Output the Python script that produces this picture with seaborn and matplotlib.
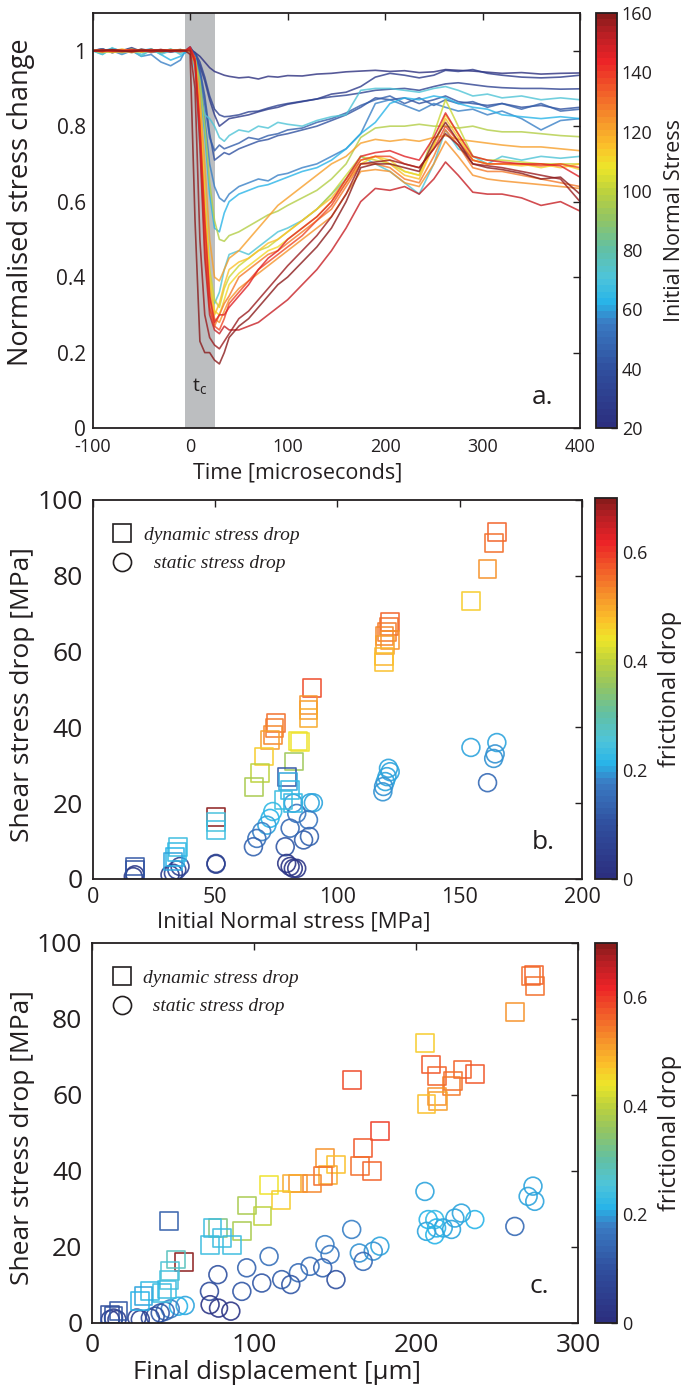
import numpy as np
import pandas as pd
import matplotlib
matplotlib.use("Agg")
import matplotlib.pyplot as plt
import seaborn as sns
from matplotlib.colors import LinearSegmentedColormap, Normalize
from matplotlib.lines import Line2D
import matplotlib.cm as cm

# ---------------- data: panel a ----------------
time_us = [-100, -90, -80, -70, -60, -50, -40, -30, -20, -10, -5, 0,
           5, 10, 15, 20, 25, 30, 35, 40,
           50, 60, 70, 80, 90, 100,
           115, 130, 145, 160, 175, 190, 205, 220, 235, 250,
           262, 275, 290, 305, 320,
           340, 360, 380, 400]

line_stress = [22, 27, 33, 72, 40, 46, 55, 62, 98, 122,
               145, 150, 159, 156, 128, 116, 72, 102, 138, 110, 124]

a_line_01 = [1.0, 1.005, 0.995, 1.0, 1.008, 0.998, 1.0, 1.003, 0.997, 1.0, 1.002, 1.0,
             0.995, 0.985, 0.97, 0.955, 0.945, 0.94, 0.935, 0.932,
             0.928, 0.93, 0.925, 0.932, 0.93, 0.934,
             0.933, 0.938, 0.94, 0.944, 0.946, 0.948, 0.945, 0.947, 0.942, 0.944,
             0.95, 0.948, 0.946, 0.943, 0.94,
             0.942, 0.938, 0.94, 0.941]
a_line_02 = [1.0, 0.995, 1.005, 1.0, 0.996, 1.004, 1.0, 0.995, 1.0, 1.003, 1.0, 1.01,
             0.99, 0.96, 0.92, 0.87, 0.83, 0.80, 0.81, 0.82,
             0.825, 0.83, 0.838, 0.845, 0.85, 0.858,
             0.865, 0.872, 0.885, 0.89, 0.905, 0.93, 0.94, 0.935, 0.928, 0.935,
             0.948, 0.945, 0.95, 0.94, 0.935,
             0.93, 0.928, 0.93, 0.935]
a_line_03 = [1.0, 1.003, 0.998, 1.0, 1.005, 0.997, 1.0, 1.002, 1.0, 0.998, 1.0, 1.005,
             0.995, 0.97, 0.93, 0.88, 0.845, 0.83, 0.825, 0.826,
             0.83, 0.838, 0.84, 0.848, 0.855, 0.86,
             0.866, 0.872, 0.878, 0.882, 0.888, 0.895, 0.898, 0.9, 0.895, 0.905,
             0.912, 0.915, 0.91, 0.905, 0.902,
             0.9, 0.9, 0.898, 0.899]
a_line_04 = [1.0, 0.99, 1.008, 0.995, 1.002, 0.985, 1.005, 0.99, 1.0, 0.995, 1.0, 1.0,
             0.96, 0.88, 0.83, 0.82, 0.80, 0.77, 0.76, 0.775,
             0.79, 0.785, 0.80, 0.795, 0.81, 0.805,
             0.80, 0.815, 0.825, 0.83, 0.895, 0.90, 0.90, 0.895, 0.89, 0.90,
             0.905, 0.895, 0.88, 0.885, 0.875,
             0.88, 0.87, 0.875, 0.87]
a_line_05 = [1.0, 1.0, 1.004, 0.996, 1.0, 1.003, 0.995, 1.0, 1.002, 1.0, 1.0, 1.005,
             0.99, 0.95, 0.88, 0.78, 0.71, 0.72, 0.73, 0.725,
             0.74, 0.75, 0.76, 0.765, 0.775, 0.78,
             0.79, 0.80, 0.815, 0.83, 0.85, 0.875, 0.87, 0.875, 0.86, 0.87,
             0.88, 0.865, 0.86, 0.855, 0.86,
             0.85, 0.855, 0.845, 0.85]
a_line_06 = [1.0, 1.005, 0.995, 1.0, 1.004, 0.997, 1.0, 1.0, 0.996, 1.002, 0.995, 1.0,
             0.99, 0.94, 0.86, 0.77, 0.735, 0.75, 0.74, 0.745,
             0.755, 0.77, 0.765, 0.775, 0.78, 0.79,
             0.795, 0.81, 0.82, 0.835, 0.855, 0.87, 0.88, 0.86, 0.875, 0.855,
             0.87, 0.86, 0.865, 0.85, 0.86,
             0.845, 0.86, 0.84, 0.845]
a_line_07 = [1.0, 0.995, 1.0, 0.99, 1.0, 0.985, 0.99, 0.97, 0.96, 0.975, 1.0, 1.0,
             0.985, 0.93, 0.82, 0.70, 0.64, 0.61, 0.60, 0.62,
             0.64, 0.65, 0.66, 0.655, 0.67, 0.675,
             0.69, 0.70, 0.72, 0.74, 0.78, 0.86, 0.87, 0.855, 0.84, 0.86,
             0.85, 0.84, 0.845, 0.83, 0.84,
             0.82, 0.79, 0.815, 0.82]
a_line_08 = [1.0, 1.0, 1.005, 1.0, 0.995, 1.0, 1.005, 0.99, 0.975, 0.985, 0.995, 1.0,
             0.98, 0.90, 0.78, 0.62, 0.53, 0.52, 0.57, 0.60,
             0.62, 0.63, 0.64, 0.645, 0.655, 0.665,
             0.68, 0.69, 0.71, 0.74, 0.78, 0.81, 0.86, 0.875, 0.87, 0.88,
             0.875, 0.86, 0.85, 0.845, 0.83,
             0.825, 0.82, 0.825, 0.82]
a_line_09 = [1.0, 1.0, 0.995, 1.0, 1.0, 1.003, 1.0, 0.997, 1.0, 1.0, 1.0, 1.0,
             0.98, 0.92, 0.80, 0.65, 0.55, 0.50, 0.495, 0.51,
             0.52, 0.535, 0.55, 0.565, 0.575, 0.59,
             0.61, 0.63, 0.66, 0.70, 0.77, 0.795, 0.80, 0.80, 0.805, 0.80,
             0.80, 0.795, 0.80, 0.79, 0.785,
             0.785, 0.78, 0.775, 0.772]
a_line_10 = [1.0, 1.0, 1.0, 0.995, 1.0, 1.0, 1.003, 1.0, 0.998, 1.0, 1.0, 1.005,
             0.98, 0.88, 0.70, 0.50, 0.40, 0.39, 0.42, 0.45,
             0.47, 0.50, 0.53, 0.56, 0.59, 0.61,
             0.64, 0.67, 0.70, 0.72, 0.755, 0.765, 0.76, 0.765, 0.76, 0.77,
             0.775, 0.765, 0.76, 0.755, 0.75,
             0.745, 0.745, 0.74, 0.735]
a_line_11 = [1.0, 1.002, 0.998, 1.0, 1.003, 1.0, 0.997, 1.0, 1.002, 1.0, 1.0, 1.01,
             0.98, 0.80, 0.55, 0.35, 0.28, 0.30, 0.30, 0.32,
             0.35, 0.38, 0.42, 0.45, 0.47, 0.50,
             0.53, 0.56, 0.60, 0.66, 0.72, 0.73, 0.735, 0.72, 0.71, 0.77,
             0.835, 0.78, 0.72, 0.71, 0.705,
             0.70, 0.70, 0.695, 0.665]
a_line_12 = [1.0, 0.998, 1.002, 1.0, 0.997, 1.0, 1.003, 1.0, 0.998, 1.0, 1.0, 1.005,
             0.97, 0.75, 0.45, 0.30, 0.26, 0.25, 0.27, 0.26,
             0.26, 0.27, 0.28, 0.30, 0.32, 0.34,
             0.38, 0.42, 0.47, 0.53, 0.60, 0.635, 0.63, 0.64, 0.62, 0.66,
             0.705, 0.67, 0.625, 0.62, 0.62,
             0.61, 0.59, 0.60, 0.575]
a_line_13 = [1.0, 1.0, 1.003, 1.0, 0.998, 1.0, 1.0, 1.002, 1.0, 1.0, 1.0, 0.99,
             0.55, 0.23, 0.20, 0.20, 0.18, 0.17, 0.20, 0.24,
             0.27, 0.29, 0.32, 0.35, 0.38, 0.40,
             0.44, 0.48, 0.53, 0.60, 0.69, 0.70, 0.70, 0.69, 0.68, 0.76,
             0.81, 0.76, 0.70, 0.69, 0.685,
             0.675, 0.66, 0.665, 0.62]
a_line_14 = [1.0, 1.002, 1.0, 0.998, 1.0, 1.003, 1.0, 0.998, 1.0, 1.002, 1.0, 1.0,
             0.90, 0.50, 0.30, 0.24, 0.22, 0.21, 0.23, 0.25,
             0.29, 0.31, 0.34, 0.37, 0.40, 0.43,
             0.47, 0.51, 0.56, 0.62, 0.70, 0.705, 0.71, 0.70, 0.69, 0.74,
             0.78, 0.75, 0.70, 0.695, 0.69,
             0.68, 0.67, 0.66, 0.60]
a_line_15 = [1.0, 0.997, 1.0, 1.003, 1.0, 0.998, 1.0, 1.002, 1.0, 0.997, 1.0, 1.0,
             0.96, 0.80, 0.50, 0.32, 0.27, 0.30, 0.33, 0.35,
             0.40, 0.42, 0.44, 0.46, 0.47, 0.49,
             0.52, 0.55, 0.58, 0.64, 0.70, 0.70, 0.69, 0.66, 0.65, 0.72,
             0.79, 0.75, 0.69, 0.68, 0.68,
             0.67, 0.66, 0.65, 0.64]
a_line_16 = [1.0, 1.003, 0.997, 1.0, 0.995, 1.0, 1.002, 0.998, 1.0, 1.0, 1.0, 1.0,
             0.97, 0.85, 0.60, 0.38, 0.30, 0.33, 0.38, 0.42,
             0.44, 0.45, 0.47, 0.49, 0.50, 0.52,
             0.55, 0.58, 0.61, 0.66, 0.71, 0.72, 0.70, 0.67, 0.66, 0.75,
             0.82, 0.77, 0.71, 0.70, 0.70,
             0.695, 0.70, 0.69, 0.70]
a_line_17 = [1.0, 0.99, 1.006, 0.992, 1.004, 0.99, 1.0, 0.995, 1.005, 0.99, 1.0, 1.0,
             0.95, 0.75, 0.50, 0.36, 0.33, 0.36, 0.42, 0.46,
             0.47, 0.46, 0.48, 0.50, 0.52, 0.53,
             0.55, 0.58, 0.62, 0.66, 0.72, 0.70, 0.68, 0.65, 0.62, 0.70,
             0.79, 0.74, 0.72, 0.70, 0.72,
             0.71, 0.72, 0.715, 0.72]
a_line_18 = [1.0, 1.0, 0.996, 1.0, 1.004, 1.0, 0.997, 1.0, 1.0, 1.003, 1.0, 1.0,
             0.98, 0.86, 0.62, 0.42, 0.34, 0.32, 0.37, 0.40,
             0.43, 0.45, 0.47, 0.48, 0.50, 0.52,
             0.55, 0.58, 0.62, 0.67, 0.72, 0.71, 0.70, 0.68, 0.67, 0.78,
             0.87, 0.80, 0.72, 0.71, 0.71,
             0.705, 0.70, 0.70, 0.70]
a_line_19 = [1.0, 1.0, 1.002, 1.0, 0.998, 1.0, 1.0, 1.003, 1.0, 0.998, 1.0, 1.005,
             0.97, 0.78, 0.48, 0.32, 0.27, 0.26, 0.29, 0.33,
             0.36, 0.39, 0.42, 0.44, 0.46, 0.48,
             0.51, 0.55, 0.59, 0.65, 0.71, 0.72, 0.72, 0.70, 0.69, 0.74,
             0.80, 0.76, 0.71, 0.70, 0.70,
             0.70, 0.695, 0.70, 0.69]
a_line_20 = [1.0, 0.995, 1.0, 1.004, 1.0, 0.996, 1.0, 1.0, 1.003, 1.0, 1.0, 1.0,
             0.98, 0.84, 0.60, 0.40, 0.31, 0.30, 0.34, 0.38,
             0.41, 0.43, 0.45, 0.47, 0.48, 0.50,
             0.53, 0.56, 0.60, 0.65, 0.70, 0.72, 0.71, 0.68, 0.67, 0.75,
             0.83, 0.78, 0.71, 0.70, 0.70,
             0.70, 0.69, 0.70, 0.685]
a_line_21 = [1.0, 1.0, 0.997, 1.0, 1.002, 1.0, 0.998, 1.0, 1.0, 1.002, 1.0, 1.0,
             0.97, 0.82, 0.55, 0.35, 0.29, 0.28, 0.31, 0.34,
             0.37, 0.39, 0.41, 0.43, 0.45, 0.47,
             0.50, 0.53, 0.56, 0.62, 0.68, 0.685, 0.68, 0.65, 0.64, 0.70,
             0.76, 0.72, 0.67, 0.66, 0.655,
             0.65, 0.645, 0.64, 0.635]

a_lines = [a_line_01, a_line_02, a_line_03, a_line_04, a_line_05, a_line_06, a_line_07,
           a_line_08, a_line_09, a_line_10, a_line_11, a_line_12, a_line_13, a_line_14,
           a_line_15, a_line_16, a_line_17, a_line_18, a_line_19, a_line_20, a_line_21]

a_xticks = [-100, 0, 100, 200, 300, 400]
a_yticks = [0, 0.2, 0.4, 0.6, 0.8, 1.0]
a_yticklabels = ["0", "0.2", "0.4", "0.6", "0.8", "1"]
a_cbar_ticks = [20, 40, 60, 80, 100, 120, 140, 160]

# ---------------- data: panel b ----------------
b_dyn_x = [165.2, 163.9, 161.4, 154.6, 121.6, 121.0, 120.3, 119.3, 121.6, 119.6, 118.9, 118.9,
           89.8, 88.2, 88.2, 88.2, 75.0, 74.3, 73.6, 72.5, 84.8, 84.0, 70.0, 68.4, 82.2, 66.0,
           79.3, 80.0, 80.7, 78.0, 82.0, 50.4, 50.4, 50.4, 35.0, 34.4, 33.7, 33.0, 17.3, 17.3]
b_dyn_y = [91.5, 88.7, 81.8, 73.4, 67.9, 66.6, 65.1, 64.2, 63.1, 61.7, 58.7, 57.3,
           50.3, 45.9, 44.6, 42.4, 41.1, 39.8, 38.0, 36.7, 36.2, 36.5, 32.3, 28.0, 31.0, 24.2,
           27.0, 25.7, 23.5, 20.8, 20.0, 16.4, 15.1, 12.9, 8.5, 7.2, 5.9, 4.6, 3.3, 2.4]
b_dyn_c = [0.56, 0.55, 0.52, 0.47, 0.56, 0.55, 0.54, 0.53, 0.52, 0.51, 0.49, 0.48,
           0.58, 0.52, 0.51, 0.50, 0.55, 0.54, 0.53, 0.51, 0.44, 0.44, 0.47, 0.40, 0.37, 0.38,
           0.12, 0.20, 0.22, 0.23, 0.22, 0.70, 0.25, 0.24, 0.23, 0.22, 0.21, 0.20, 0.12, 0.10]

b_sta_x = [165.2, 154.6, 164.5, 163.9, 161.4, 120.9, 121.6, 120.3, 119.6, 118.9, 118.6,
           88.9, 90.2, 88.2, 88.6, 86.2, 82.0, 83.4, 80.7, 78.7,
           73.6, 72.5, 71.2, 69.1, 67.1, 65.7, 79.3, 80.7, 82.0, 83.4,
           50.4, 50.4, 33.0, 34.4, 35.7, 31.6, 17.3, 16.6]
b_sta_y = [36.0, 34.7, 33.0, 31.8, 25.4, 29.2, 28.3, 27.0, 25.7, 24.4, 23.0,
           20.1, 20.1, 15.6, 11.2, 10.3, 20.0, 17.3, 13.4, 8.5,
           17.8, 16.0, 14.2, 12.5, 10.7, 8.5, 4.1, 3.3, 2.8, 2.8,
           4.1, 3.9, 1.5, 2.4, 3.3, 1.1, 1.1, 0.6]
b_sta_c = [0.20, 0.20, 0.19, 0.19, 0.15, 0.20, 0.20, 0.20, 0.20, 0.19, 0.19,
           0.20, 0.20, 0.17, 0.14, 0.13, 0.19, 0.17, 0.15, 0.12,
           0.22, 0.21, 0.20, 0.18, 0.16, 0.14, 0.03, 0.03, 0.03, 0.03,
           0.06, 0.06, 0.06, 0.07, 0.06, 0.05, 0.04, 0.04]

# ---------------- data: panel c ----------------
c_dyn_x = [271.2, 272.7, 273.3, 261.0, 205.5,
           209.0, 212.7, 228.7, 236.3, 222.9, 221.9, 212.7, 213.7, 206.5,
           160.3, 177.7, 167.4, 165.4, 172.6,
           143.8, 150.6, 145.9, 142.4, 135.6, 127.4, 123.3, 109.3, 116.5,
           95.5, 105.2, 92.5, 77.7, 74.4, 80.5, 86.3, 72.9, 47.7,
           56.9, 52.0, 47.9, 47.3, 46.2, 43.1, 35.9, 31.8, 29.8, 16.4, 13.3, 11.3]
c_dyn_y = [91.2, 91.6, 88.6, 81.8, 73.7,
           68.0, 64.9, 66.7, 65.6, 63.6, 62.3, 59.6, 58.3, 57.7,
           64.0, 50.4, 46.1, 41.2, 39.9,
           43.4, 41.7, 39.0, 38.6, 36.7, 36.7, 36.7, 36.2, 32.3,
           30.9, 28.1, 24.1, 25.0, 25.0, 22.4, 20.6, 20.6, 26.9,
           16.0, 16.7, 13.6, 11.4, 8.8, 7.9, 8.3, 7.0, 5.7, 3.1, 1.8, 2.2]
c_dyn_c = [0.55, 0.56, 0.55, 0.52, 0.47,
           0.57, 0.56, 0.56, 0.57, 0.55, 0.54, 0.52, 0.51, 0.48,
           0.58, 0.60, 0.57, 0.55, 0.56,
           0.52, 0.48, 0.50, 0.55, 0.53, 0.52, 0.50, 0.44, 0.47,
           0.38, 0.40, 0.38, 0.33, 0.24, 0.24, 0.23, 0.23, 0.13,
           0.70, 0.28, 0.26, 0.25, 0.24, 0.23, 0.22, 0.20, 0.21, 0.12, 0.10, 0.09]

c_sta_x = [272.2, 269.2, 273.3, 261.0, 205.5,
           207.5, 211.6, 228.0, 236.3, 224.0, 216.8, 212.7, 206.5, 211.6, 221.9,
           160.3, 143.8, 146.9, 177.7, 173.6, 165.0, 167.4, 134.6, 142.4, 127.4, 117.1,
           122.7, 150.6, 109.3, 95.5, 104.8, 92.5,
           77.7, 72.5, 72.9, 78.1, 85.7,
           57.5, 53.4, 48.3, 45.2, 42.1, 39.0, 36.0, 29.8, 27.7, 15.4, 11.3, 13.3]
c_sta_y = [36.0, 33.3, 32.0, 25.4, 34.6,
           27.2, 27.2, 28.9, 27.2, 27.6, 25.0, 25.0, 24.1, 23.2, 24.6,
           24.6, 20.6, 18.0, 20.2, 18.9, 18.4, 16.2, 14.9, 14.5, 13.2, 11.4,
           10.1, 11.4, 17.5, 14.5, 10.5, 8.3,
           12.7, 8.3, 4.8, 3.9, 3.1,
           4.6, 4.4, 3.7, 3.1, 2.6, 1.8, 1.3, 0.9, 1.3, 0.9, 0.9, 1.3]
c_sta_c = [0.20, 0.20, 0.20, 0.15, 0.20,
           0.21, 0.22, 0.20, 0.21, 0.20, 0.20, 0.21, 0.20, 0.21, 0.20,
           0.18, 0.18, 0.17, 0.20, 0.19, 0.19, 0.15, 0.16, 0.14, 0.15, 0.13,
           0.12, 0.10, 0.16, 0.14, 0.12, 0.12,
           0.10, 0.09, 0.03, 0.03, 0.03,
           0.20, 0.21, 0.18, 0.15, 0.12, 0.10, 0.08, 0.06, 0.07, 0.05, 0.05, 0.05]

fd_cbar_ticks = [0, 0.1, 0.2, 0.3, 0.4, 0.5, 0.6]
fd_cbar_labels = ["0", "", "0.2", "", "0.4", "", "0.6"]

# ---------------- style ----------------
sns.set_style("white")
plt.rcParams["font.family"] = ["Open Sans", "DejaVu Sans"]
plt.rcParams["mathtext.fontset"] = "custom"
plt.rcParams["mathtext.rm"] = "Open Sans"
plt.rcParams["axes.unicode_minus"] = False
INK = "#231f20"

jet_like = LinearSegmentedColormap.from_list(
    "jetlike",
    [(0.00, "#2c2f7f"), (0.14, "#30509f"), (0.25, "#3a7bc3"), (0.30, "#28b4e8"),
     (0.36, "#4ec4da"), (0.43, "#62c0a4"), (0.50, "#8fc467"), (0.57, "#bcd13d"),
     (0.63, "#ede62a"), (0.68, "#fbc22a"), (0.73, "#f79f2b"), (0.82, "#f15a29"),
     (0.89, "#ec2327"), (0.96, "#b51f24"), (1.00, "#8a1b1b")], N=64)

fig = plt.figure(figsize=(6.86, 13.93), dpi=100)
ax_a = fig.add_axes([0.1351, 0.6927, 0.7104, 0.2980])
ax_b = fig.add_axes([0.1351, 0.3690, 0.7133, 0.2721])
ax_c = fig.add_axes([0.1341, 0.0503, 0.7085, 0.2728])
cax_a = fig.add_axes([0.8688, 0.6927, 0.0306, 0.2980])
cax_b = fig.add_axes([0.8673, 0.3690, 0.0320, 0.2735])
cax_c = fig.add_axes([0.8673, 0.0503, 0.0320, 0.2727])


def style_axes(ax, tick_size, pad):
    for s in ax.spines.values():
        s.set_color(INK)
        s.set_linewidth(1.3)
    ax.tick_params(direction="in", top=True, right=True, length=5, width=1.0,
                   color=INK, labelcolor=INK, labelsize=tick_size, pad=pad)


# ---------------- panel a ----------------
rows = []
for k, (vals, st) in enumerate(zip(a_lines, line_stress)):
    for t, v in zip(time_us, vals):
        rows.append({"t": t, "v": v, "stress": st, "line": k})
df_a = pd.DataFrame(rows)

ax_a.axvspan(-5, 25, color="#bcbec0", lw=0, zorder=0)
sns.lineplot(data=df_a, x="t", y="v", hue="stress", units="line", estimator=None,
             palette=jet_like, hue_norm=(20, 160), legend=False, lw=1.2, alpha=0.8,
             ax=ax_a, sort=False)
ax_a.set_xlim(-100, 400)
ax_a.set_ylim(0, 1.1)
ax_a.set_xticks(a_xticks)
ax_a.set_yticks(a_yticks)
ax_a.set_yticklabels(a_yticklabels)
style_axes(ax_a, 13, 7.5)
ax_a.tick_params(axis="y", labelsize=15, pad=5)
ax_a.set_xlabel("Time [microseconds]", fontsize=15.5, color=INK)
ax_a.set_ylabel("Normalised stress change", fontsize=19.5, color=INK)
ax_a.xaxis.set_label_coords(0.421, -0.082)
ax_a.yaxis.set_label_coords(-0.118, 0.543)
ax_a.text(10, 0.11, r"t$_\mathregular{c}$", ha="center", va="center", fontsize=14, color=INK)
ax_a.text(362, 0.082, "a.", ha="center", va="center", fontsize=19, color=INK)

cb_a = fig.colorbar(cm.ScalarMappable(norm=Normalize(20, 160), cmap=jet_like), cax=cax_a)
cb_a.set_ticks(a_cbar_ticks)
cb_a.outline.set_linewidth(1.3)
cb_a.outline.set_edgecolor(INK)
cax_a.tick_params(direction="in", length=4, width=1, color=INK, labelsize=13, labelcolor=INK)
cb_a.set_label("Initial Normal Stress", fontsize=15.5, color=INK, labelpad=8)


# ---------------- panels b, c ----------------
def hollow_scatter(ax, x, y, c, marker):
    d = pd.DataFrame({"x": x, "y": y, "c": c})
    sns.scatterplot(data=d, x="x", y="y", hue="c", palette=jet_like, hue_norm=(0, 0.7),
                    marker=marker, s=165, legend=False, ax=ax, linewidth=0)
    coll = ax.collections[-1]
    fc = coll.get_facecolors()
    fc[:, 3] = 0.9
    coll.set_edgecolors(fc)
    coll.set_facecolors("none")
    coll.set_linewidths(1.2)


legend_handles = [
    Line2D([], [], marker="s", ls="none", mfc="none", mec=INK, ms=13, mew=1.2),
    Line2D([], [], marker="o", ls="none", mfc="none", mec=INK, ms=13, mew=1.2),
]
legend_labels = ["dynamic stress drop", "  static stress drop"]

for ax, cax, dx, dy, dc, sx, sy, sc, xmax, xticks, letter in [
        (ax_b, cax_b, b_dyn_x, b_dyn_y, b_dyn_c, b_sta_x, b_sta_y, b_sta_c, 200,
         [0, 50, 100, 150, 200], "b."),
        (ax_c, cax_c, c_dyn_x, c_dyn_y, c_dyn_c, c_sta_x, c_sta_y, c_sta_c, 300,
         [0, 100, 200, 300], "c.")]:
    hollow_scatter(ax, sx, sy, sc, "o")
    hollow_scatter(ax, dx, dy, dc, "s")
    ax.set_xlim(0, xmax)
    ax.set_ylim(0, 100)
    ax.set_xticks(xticks)
    ax.set_yticks([0, 20, 40, 60, 80, 100])
    style_axes(ax, 15.5, 6)
    ax.tick_params(axis="y", labelsize=19, pad=7)
    ax.set_ylabel("Shear stress drop [MPa]", fontsize=19, color=INK)
    ax.yaxis.set_label_coords(-0.118, 0.487)
    ax.text(0.92, 0.095, letter, transform=ax.transAxes, ha="center", va="center",
            fontsize=19, color=INK)
    ax.legend(legend_handles, legend_labels, loc="upper left", bbox_to_anchor=(0.041, 0.93),
              frameon=False, prop=dict(family="Liberation Serif", style="italic", size=14),
              handlelength=1.0, handletextpad=0.6, labelspacing=0.55, borderpad=0,
              borderaxespad=0, labelcolor=INK)
    cb = fig.colorbar(cm.ScalarMappable(norm=Normalize(0, 0.7), cmap=jet_like), cax=cax)
    cb.set_ticks(fd_cbar_ticks)
    cb.set_ticklabels(fd_cbar_labels)
    cb.outline.set_linewidth(1.3)
    cb.outline.set_edgecolor(INK)
    cax.tick_params(direction="in", length=4, width=1, color=INK, labelsize=13, labelcolor=INK)
    cb.set_label("frictional drop", fontsize=17, color=INK, labelpad=8)

ax_b.set_xlabel("Initial Normal stress [MPa]", fontsize=16, color=INK)
ax_b.xaxis.set_label_coords(0.411, -0.086)
ax_c.tick_params(axis="x", labelsize=19, pad=7)
ax_c.set_xlabel("Final displacement [\u03bcm]", fontsize=18.5, color=INK)
ax_c.xaxis.set_label_coords(0.38, -0.097)

fig.savefig("out.png", dpi=100)
